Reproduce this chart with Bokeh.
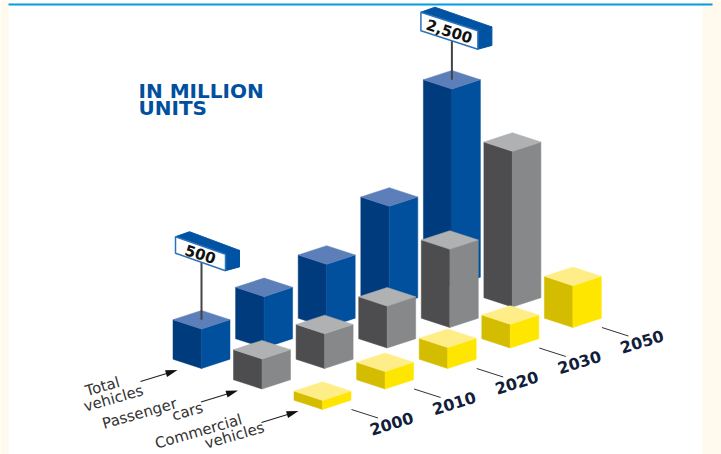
import math

from bokeh.core.properties import value
from bokeh.embed import file_html
from bokeh.models import ColumnDataSource, Range1d
from bokeh.plotting import figure
from bokeh.resources import INLINE

# Vehicle stock in million units
years = ["2000", "2010", "2020", "2030", "2050"]
total_vehicles = [500, 650, 800, 1275, 2500]
passenger_cars = [380, 440, 530, 990, 1970]
commercial_vehicles = [115, 220, 265, 300, 530]
series = [total_vehicles, passenger_cars, commercial_vehicles]
series_labels = [["Total", "vehicles"], ["Passenger", "cars"], ["Commercial", "vehicles"]]
value_signs = [(0, 0, "500"), (0, 4, "2,500")]

# Isometric layout, in pixels of the page
ORIGIN_X, ORIGIN_Y = 201.0, 368.0
YEAR_STEP = (62.6, -20.5)
SERIES_STEP = (60.5, 20.5)
HALF_W, HALF_D = 28.5, 9.3
PX_PER_UNIT = 0.079

FACE_COLORS = [
    ("#003C7D", "#00509E", "#5C7FBA"),
    ("#4D4D4F", "#878889", "#B0B1B3"),
    ("#D4BD00", "#FFE600", "#FFEE88"),
]


def project(i, s, v=0.0):
    """Front-bottom vertex of a column, lifted by value v."""
    return (
        ORIGIN_X + i * YEAR_STEP[0] + s * SERIES_STEP[0],
        ORIGIN_Y + i * YEAR_STEP[1] + s * SERIES_STEP[1] - v * PX_PER_UNIT,
    )


p = figure(
    width=721, height=454, output_backend="svg", toolbar_location=None,
    x_range=Range1d(0, 721), y_range=Range1d(454, 0),
    min_border=0, outline_line_color=None, background_fill_color="white",
    border_fill_color="white",
)
p.axis.visible = False
p.grid.visible = False

# Page frame
p.quad(left=[0, 702], right=[8, 721], top=[0, 0], bottom=[454, 454],
       fill_color="#FFF9EE", line_color=None)
p.quad(left=[8], right=[712], top=[3], bottom=[5], fill_color="#009EE0", line_color=None)

# Columns, painted back to front
xs, ys, fills = [], [], []
for s, vals in enumerate(series):
    for i in range(len(years) - 1, -1, -1):
        bx, by = project(i, s)
        tx, ty = project(i, s, vals[i])
        left, right, top = FACE_COLORS[s]
        faces = [
            ([bx, bx - HALF_W, bx - HALF_W, bx], [by, by - HALF_D, ty - HALF_D, ty], left),
            ([bx, bx + HALF_W, bx + HALF_W, bx], [by, by - HALF_D, ty - HALF_D, ty], right),
            ([tx, tx - HALF_W, tx, tx + HALF_W],
             [ty, ty - HALF_D, ty - 2 * HALF_D, ty - HALF_D], top),
        ]
        for fx, fy, c in faces:
            xs.append(fx)
            ys.append(fy)
            fills.append(c)
p.patches(xs="xs", ys="ys", fill_color="fills", line_color="fills", line_width=0.5,
          source=ColumnDataSource(dict(xs=xs, ys=ys, fills=fills)))

# Value signs on posts: left overhang, rise of the lower-left corner above the
# post foot, face height, face width, slope of the face
SIGN = {"500": (26, 66.5, 16.5, 50, 0.35),
        "2,500": (31, 49, 18.5, 57, 0.325)}
DEPTH_X, DEPTH_Y_L, DEPTH_Y_R = 14, 5, 3.8
for s, i, label in value_signs:
    tx, ty = project(i, s, series[s][i])
    to_left, rise, face_h, face_w, slope = SIGN[label]
    foot = ty - HALF_D
    lx, rx = tx - to_left, tx - to_left + face_w
    yb_left = foot - rise
    yb_right = yb_left + slope * face_w
    yt_left, yt_right = yb_left - face_h, yb_right - face_h
    p.line([tx, tx], [foot, yb_left + slope * to_left], line_color="#444444", line_width=2)
    p.patch([lx, lx + DEPTH_X, rx + DEPTH_X, rx],
            [yt_left, yt_left - DEPTH_Y_L, yt_right - DEPTH_Y_R, yt_right],
            fill_color="#0052A3", line_color="#0052A3")
    p.patch([rx, rx + DEPTH_X, rx + DEPTH_X, rx],
            [yt_right, yt_right - DEPTH_Y_R, yb_right - DEPTH_Y_R, yb_right],
            fill_color="#0052A3", line_color="#0052A3")
    p.patch([lx, rx, rx, lx], [yt_left, yt_right, yb_right, yb_left],
            fill_color="white", line_color="#2C72B8", line_width=1.5)
    p.text([(lx + rx) / 2], [(yt_left + yb_right) / 2], text=[label], angle=-17.5,
           angle_units="deg", text_align="center", text_baseline="middle",
           text_font=value("DejaVu Sans"), text_font_style="bold", text_font_size="15px",
           text_color="#111111")

# Unit caption
p.text([138, 138], [90, 107], text=["IN MILLION", "UNITS"], text_align="left",
       text_baseline="middle", text_font=value("DejaVu Sans"), text_font_style="bold",
       text_font_size="20px", text_color="#00509E")

# Year ticks and labels along the front edge
for i, y in enumerate(years):
    bx, by = project(i, 2)
    p.line([bx + 29, bx + 55.5], [by, by + 8.5], line_color="#333333", line_width=1)
    p.text([bx + 69], [by + 14], text=[y], angle=17, angle_units="deg", text_align="center",
           text_baseline="middle", text_font=value("DejaVu Sans"), text_font_style="bold",
           text_font_size="16px", text_color="#10203A")

# Series captions with arrows towards the columns
LABEL_POS = [((102, 386), (113, 398)), ((139, 413), (187, 411)), ((198, 431), (234, 435))]
for s, lines in enumerate(series_labels):
    bx, by = project(0, s)
    for text, (lx, ly) in zip(lines, LABEL_POS[s]):
        p.text([lx], [ly], text=[text], angle=16, angle_units="deg", text_align="center",
               text_baseline="middle", text_font=value("DejaVu Sans"),
               text_font_size="15px", text_color="#333333")
    ax0, ay0 = bx - 61, by + 13
    ax1, ay1 = bx - 24, by + 1.5
    p.line([ax0, ax1 - 6], [ay0, ay1 + 2], line_color="#222222", line_width=1.2)
    ang = math.atan2(ay0 - ay1, ax1 - ax0)
    wx, wy = math.cos(ang), -math.sin(ang)
    p.patch([ax1, ax1 - 12 * wx - 3.5 * wy, ax1 - 12 * wx + 3.5 * wy],
            [ay1, ay1 - 12 * wy + 3.5 * wx, ay1 - 12 * wy - 3.5 * wx],
            fill_color="#111111", line_color=None)

open("out.html", "w").write(file_html(p, INLINE))
